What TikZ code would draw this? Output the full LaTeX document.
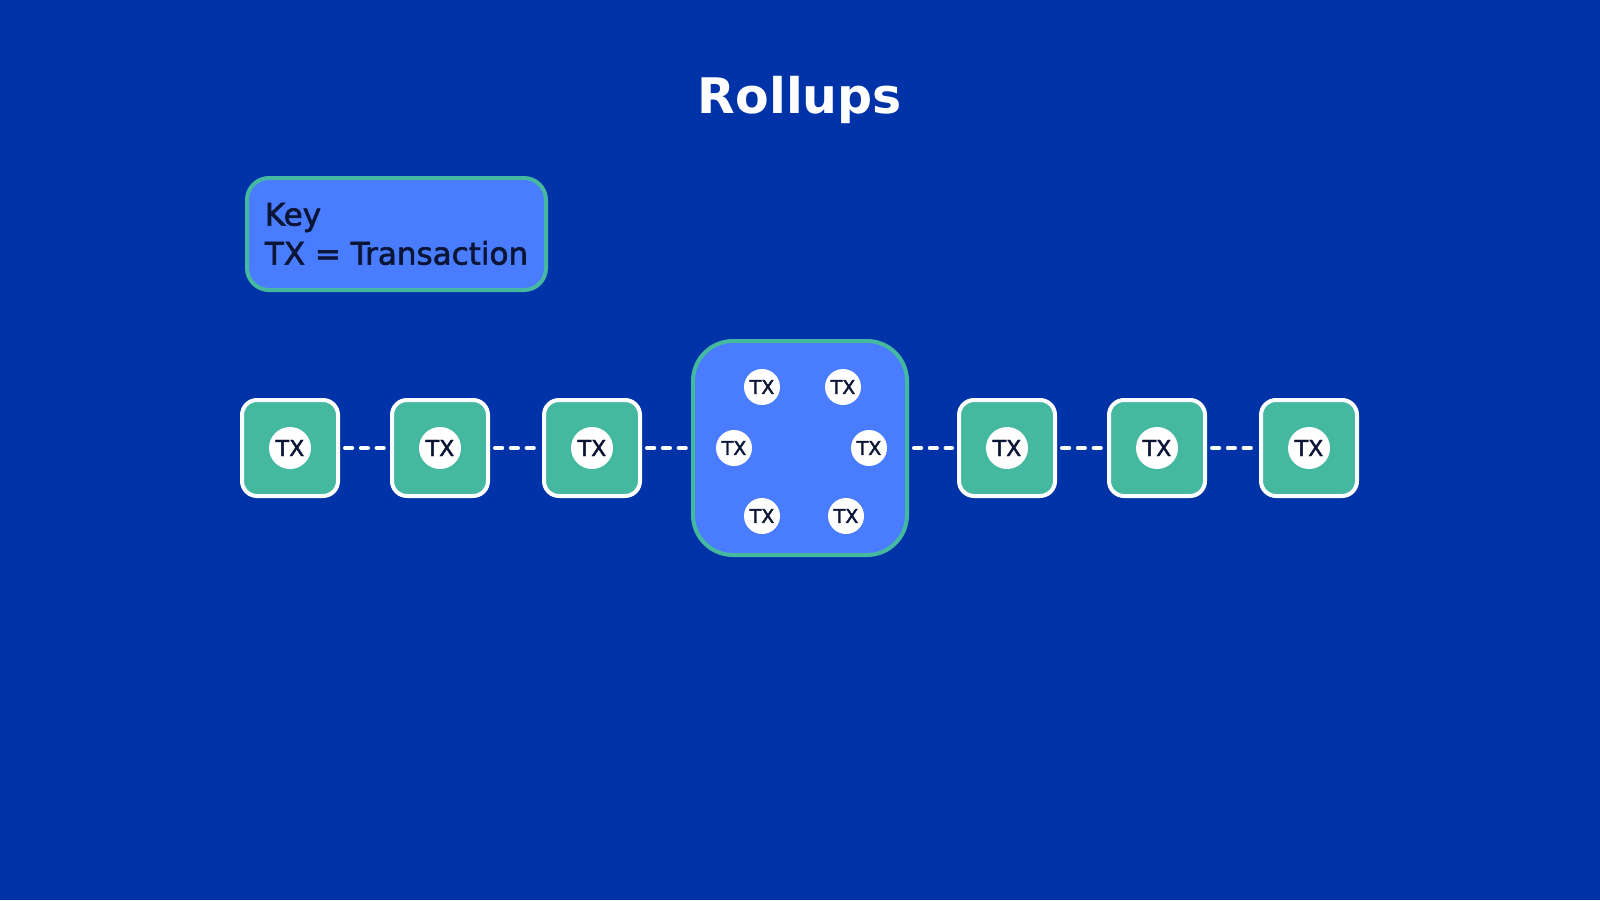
\documentclass[tikz,border=0pt]{standalone}
\usepackage{fontspec}
\setmainfont{DejaVu Sans}
\newfontfamily\medfont[FakeBold=2]{DejaVu Sans}
\usepackage{xcolor}
\definecolor{bgblue}{HTML}{0033A8}
\definecolor{keyblue}{HTML}{4A7CFF}
\definecolor{txteal}{HTML}{45B9A0}
\definecolor{inkblue}{HTML}{0B1535}

\begin{document}
\begin{tikzpicture} [x=0.5pt, y=-0.5pt,
    block/.style={draw=white, line width=2pt, fill=txteal, rounded corners=7.5pt,
      minimum size=48pt, inner sep=0pt},
    tx/.style={circle, fill=white, text=inkblue, minimum size=21pt, inner sep=0pt,
      font=\medfont\fontsize{11}{11}\selectfont},
    smalltx/.style={tx, minimum size=18pt, font=\medfont\fontsize{9.5}{9.5}\selectfont},
    link/.style={draw=white, line width=2pt, line cap=round,
      dash pattern=on 3.6pt off 4.3pt, shorten <=2.5pt, shorten >=2.5pt}]
        %background
        \fill[bgblue] (0,0) rectangle (1600,900);
        \useasboundingbox (0,0) rectangle (1600,900);
        %title
        \node (title) [anchor=base, text=white,
              font=\fontsize{24.5}{24.5}\selectfont\bfseries] at (800,113) {Rollups};
        %key
        \node (key) [draw=txteal, fill=keyblue, line width=2pt, rounded corners=11pt,
              minimum width=149.5pt, minimum height=56pt, align=left, text=inkblue,
              font=\medfont\fontsize{15.5}{19.5}\selectfont] at (396.5,234)
              {Key\\TX = Transaction};
        %chain of single transactions
        \node (b1) [block] at (290,448) {};
        \node (b2) [block] at (440,448) {};
        \node (b3) [block] at (592,448) {};
        \node (b4) [block] at (1007,448) {};
        \node (b5) [block] at (1157,448) {};
        \node (b6) [block] at (1309,448) {};
        \node (t1) [tx] at (b1) {TX};
        \node (t2) [tx] at (b2) {TX};
        \node (t3) [tx] at (b3) {TX};
        \node (t4) [tx] at (b4) {TX};
        \node (t5) [tx] at (b5) {TX};
        \node (t6) [tx] at (b6) {TX};
        %rollup block
        \node (rollup) [draw=txteal, fill=keyblue, line width=2pt, rounded corners=20pt,
              minimum size=107pt] at (800,448) {};
        \node (r1) [smalltx] at (762,387) {TX};
        \node (r2) [smalltx] at (843,387) {TX};
        \node (r3) [smalltx] at (734,448) {TX};
        \node (r4) [smalltx] at (869,448) {TX};
        \node (r5) [smalltx] at (762,516) {TX};
        \node (r6) [smalltx] at (846,516) {TX};
        %links
        \draw[link] (b1) -- (b2);
        \draw[link] (b2) -- (b3);
        \draw[link] (b3) -- (rollup);
        \draw[link] (rollup) -- (b4);
        \draw[link] (b4) -- (b5);
        \draw[link] (b5) -- (b6);
      \end{tikzpicture}
\end{document}
